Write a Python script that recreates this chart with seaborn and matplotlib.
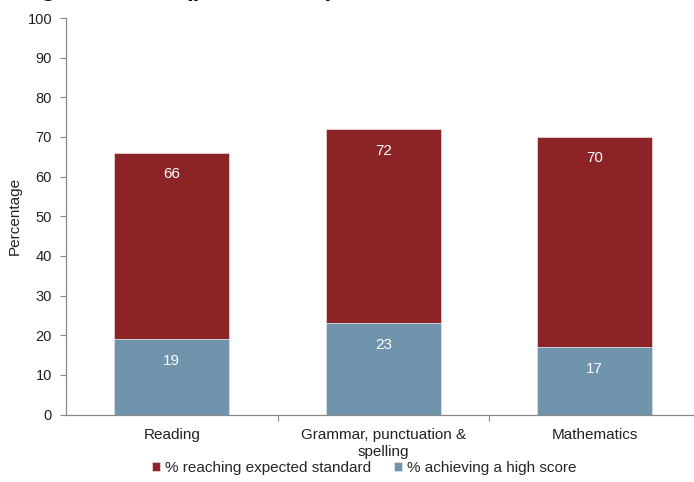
import numpy as np
import pandas as pd
import matplotlib.pyplot as plt
import seaborn as sns

# values
subjects = ["Reading", "Grammar, punctuation &\nspelling", "Mathematics"]
expected = [66, 72, 70]
high = [19, 23, 17]
legendLabels = ["% reaching expected standard", "% achieving a high score"]

redCol = "#8B2327"
blueCol = "#6F94AB"

sns.set_theme(style="white")
plt.rcParams['font.family'] = ['Liberation Sans', 'DejaVu Sans']

data = pd.DataFrame({"subject": subjects, "expected": expected, "high": high})

fig = plt.figure(figsize=(6.94, 4.82), dpi=100)
ax = fig.add_axes([66/694, (482-414.5)/482, 634.5/694, (414.5-18)/482])

sns.barplot(data=data, x="subject", y="expected", color=redCol, width=0.545,
            saturation=1, edgecolor="#e8d0d0", linewidth=0.6, ax=ax, label=legendLabels[0])
sns.barplot(data=data, x="subject", y="high", color=blueCol, width=0.545,
            saturation=1, edgecolor="#d8e4ec", linewidth=0.6, ax=ax, label=legendLabels[1])

for i in range(len(subjects)):
    for v in (expected[i], high[i]):
        ax.annotate(str(v), (i, v), xytext=(0, -15.5), textcoords="offset points",
                    ha="center", va="center", color="white", fontsize=11)

ax.set_xlim(-0.5, 2.5)
ax.set_ylim(0, 100)
ax.set_yticks(np.arange(0, 101, 10))
ax.set_xticks([0, 1, 2])
ax.set_xticks([0.5, 1.5], minor=True)
ax.tick_params(axis="x", which="major", length=0, pad=10, labelsize=11, colors="#222222")
ax.tick_params(axis="x", which="minor", length=4, width=0.8, color="#888888", direction="out", bottom=True)
ax.tick_params(axis="y", length=4, width=0.8, color="#888888", direction="out", left=True,
               labelsize=10.5, labelcolor="#222222", pad=6)
ax.set_xlabel("")
ax.set_ylabel("Percentage", fontsize=11, color="#222222", labelpad=4)

sns.despine(ax=ax)
for s in ("left", "bottom"):
    ax.spines[s].set_color("#888888")
    ax.spines[s].set_linewidth(0.9)

ax.legend(loc="center", bbox_to_anchor=(364/694, 1-468/482), bbox_transform=fig.transFigure,
          ncol=2, frameon=False, fontsize=11, handlelength=0.55, handleheight=0.55,
          handletextpad=0.3, columnspacing=1.5)

# title line cut off at the top of the picture
fig.text(9/694, 1+3.8/482, "England, 2016 (provisional)", fontsize=18, weight="bold",
         va="baseline", ha="left", color="#111111")

fig.savefig("out.png", dpi=100)
